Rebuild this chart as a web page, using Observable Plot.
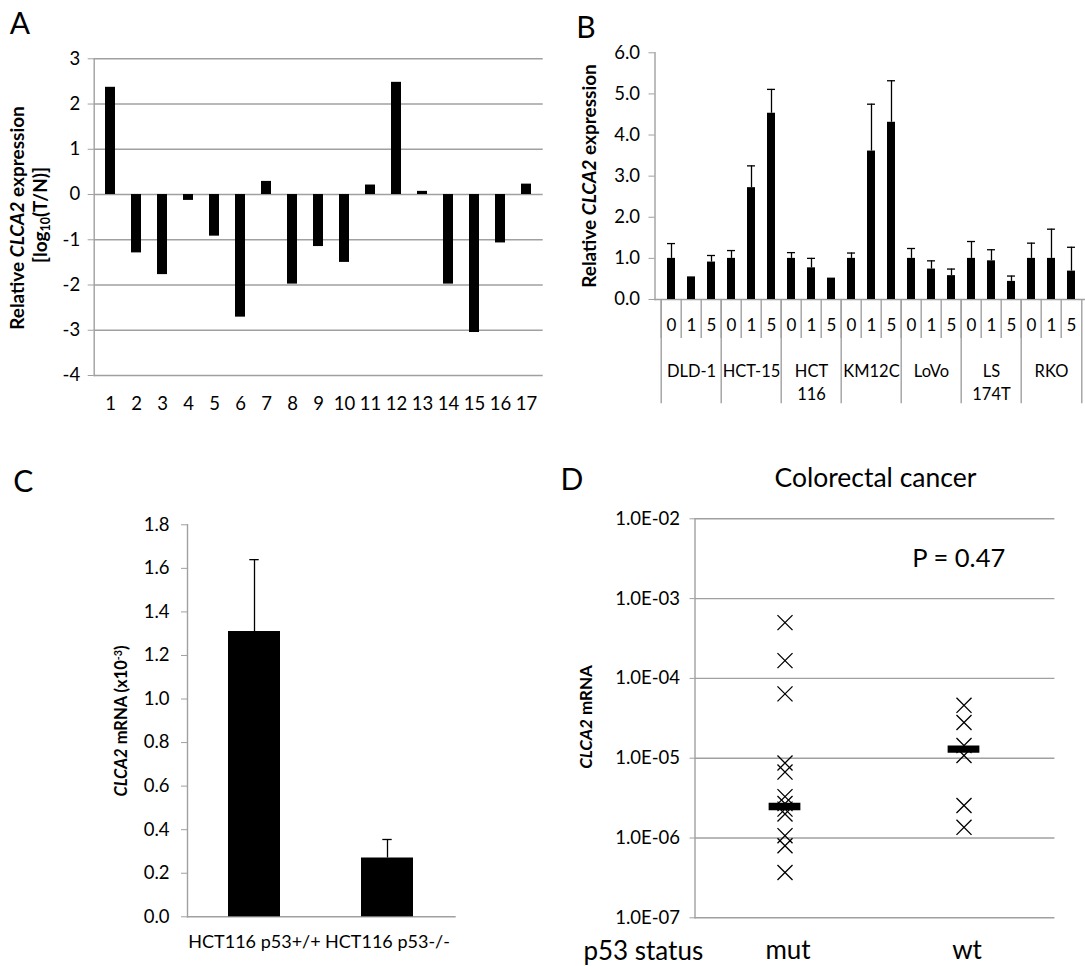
<!DOCTYPE html>
<html><head><meta charset="utf-8">
<script src="https://cdn.jsdelivr.net/npm/d3@7"></script>
<script src="https://cdn.jsdelivr.net/npm/@observablehq/plot@0.6"></script>
<style>
html,body{margin:0;padding:0;background:#fff;overflow:hidden;}
#fig{position:relative;width:1085px;height:966px;overflow:hidden;font-family:Lato,sans-serif;color:#000;background:#fff;}
#fig svg{position:absolute;}
.lbl{position:absolute;white-space:nowrap;line-height:1;transform:translate(-50%,-50%);}
.rot{position:absolute;white-space:nowrap;line-height:1;transform:translate(-50%,-50%) rotate(-90deg);font-weight:bold;font-size:17px;}
.rot sub{font-size:0.65em;vertical-align:-0.2em;}
.rot sup{font-size:0.65em;vertical-align:0.45em;}
</style></head><body><div id="fig"></div>
<script>
// ---------- Panel A data ----------
const aSamples = ["1","2","3","4","5","6","7","8","9","10","11","12","13","14","15","16","17"];
const aValues = [2.37,-1.29,-1.77,-0.13,-0.92,-2.71,0.29,-1.98,-1.15,-1.50,0.21,2.48,0.07,-1.98,-3.05,-1.07,0.23];
const aTicks = [-4,-3,-2,-1,0,1,2,3];

// ---------- Panel B data ----------
const bCellLines = ["DLD-1","HCT-15","HCT 116","KM12C","LoVo","LS 174T","RKO"];
const bGroupLabels = ["DLD-1","HCT-15","HCT\n116","KM12C","LoVo","LS\n174T","RKO"];
const bDoses = ["0","1","5"];
const bValues = [1.00,0.55,0.91, 1.00,2.72,4.53, 1.00,0.77,0.52, 1.00,3.61,4.31, 1.00,0.74,0.58, 1.00,0.94,0.44, 1.00,1.00,0.69];
const bErrors = [0.36,0.00,0.16, 0.19,0.53,0.58, 0.14,0.23,0.00, 0.13,1.14,1.01, 0.24,0.20,0.16, 0.41,0.27,0.13, 0.37,0.71,0.58];
const bTicks = [0,1,2,3,4,5,6];

// ---------- Panel C data ----------
const cCategories = ["HCT116 p53+/+","HCT116 p53-/-"];
const cValues = [1.31,0.27];
const cErrors = [0.33,0.085];
const cTicks = [0,0.2,0.4,0.6,0.8,1.0,1.2,1.4,1.6,1.8];

// ---------- Panel D data ----------
const dGroups = ["mut","wt"];
const dMut = [5.0e-4,1.67e-4,6.4e-5,8.7e-6,6.7e-6,3.3e-6,2.7e-6,2.3e-6,2.0e-6,1.07e-6,8.0e-7,3.7e-7];
const dWt = [4.6e-5,2.8e-5,1.44e-5,1.08e-5,2.55e-6,1.36e-6];
const dMedians = [2.48e-6,1.30e-5];
const dTicks = [1e-7,1e-6,1e-5,1e-4,1e-3,1e-2];
const dTickLabels = ["1.0E-07","1.0E-06","1.0E-05","1.0E-04","1.0E-03","1.0E-02"];

const GRAY = "#a0a0a0";
const FONT = "Lato, sans-serif";
const TICKFS = "18.5px";
const fig = document.getElementById("fig");

function place(svg, left, top){ svg.style.left = left+"px"; svg.style.top = top+"px"; fig.appendChild(svg); }

// ---------- Panel A ----------
{
  const data = aSamples.map((s,i)=>({s, v:aValues[i]}));
  const p = Plot.plot({
    width:560, height:420, marginLeft:93.7, marginRight:17.3, marginTop:58.3, marginBottom:45,
    style:{fontFamily:FONT, fontSize:TICKFS, color:"#000", background:"transparent"},
    x:{type:"band", domain:aSamples, paddingInner:0.62, paddingOuter:0.31},
    y:{domain:[-4,3]},
    marks:[
      Plot.ruleY(aTicks, {stroke:GRAY, strokeWidth:1.4}),
      Plot.frame({anchor:"left", stroke:GRAY, strokeWidth:1.4}),
      Plot.axisY({ticks:aTicks, tickSize:6, tickPadding:8, stroke:GRAY, tickFormat:d=>String(d).replace("−","-"), label:null}),
      Plot.barY(data, {x:"s", y:"v", fill:"#000"}),
      Plot.axisX({tickSize:0, tickPadding:21, label:null})
    ]
  });
  place(p, 0, 0);
}

// ---------- Panel B ----------
{
  const data = [];
  bCellLines.forEach((c,gi)=>bDoses.forEach((d,di)=>{
    const i = gi*3+di;
    data.push({key:c+"|"+d, cell:c, dose:d, v:bValues[i], e:bErrors[i]});
  }));
  const keys = data.map(d=>d.key);
  const mL = 114.5, width = 547.1, mR = 0, mT = 52.3, height = 420, mB = 121;
  const step = (width - mL - mR) / keys.length;
  const innerH = height - mT - mB;
  const errs = data.filter(d=>d.e>0.02);
  const groupFirst = bCellLines.map(c=>c+"|"+bDoses[0]);
  const groupMid = bCellLines.map((c,i)=>({key:c+"|"+bDoses[1], label:bGroupLabels[i]}));
  const p = Plot.plot({
    width, height, marginLeft:mL, marginRight:mR, marginTop:mT, marginBottom:mB,
    style:{fontFamily:FONT, fontSize:TICKFS, color:"#000", background:"transparent"},
    x:{type:"band", domain:keys, paddingInner:0.61, paddingOuter:0.305, axis:null},
    y:{domain:[0,6]},
    marks:[
      Plot.frame({anchor:"left", stroke:GRAY, strokeWidth:1.4}),
      Plot.frame({anchor:"bottom", stroke:GRAY, strokeWidth:1.4}),
      Plot.axisY({ticks:bTicks, tickSize:6, tickPadding:9, stroke:GRAY, tickFormat:d3.format(".1f"), label:null}),
      Plot.ruleX(data, {x:"key", dx:-step/2, insetTop:innerH, insetBottom:-39, stroke:GRAY, strokeWidth:1.4}),
      Plot.ruleX(groupFirst, {x:d=>d, dx:-step/2, insetTop:innerH, insetBottom:-104.3, stroke:GRAY, strokeWidth:1.4}),
      Plot.ruleX([keys[keys.length-1]], {x:d=>d, dx:step/2, insetTop:innerH, insetBottom:-104.3, stroke:GRAY, strokeWidth:1.4}),
      Plot.ruleX(errs, {x:"key", y1:"v", y2:d=>d.v+d.e, stroke:"#000", strokeWidth:1.3}),
      Plot.tickY(errs, {x:"key", y:d=>d.v+d.e, stroke:"#000", strokeWidth:1.3}),
      Plot.barY(data, {x:"key", y:"v", fill:"#000"}),
      Plot.text(data, {x:"key", text:"dose", frameAnchor:"bottom", dy:26, lineAnchor:"middle", fontSize:17}),
      Plot.text(groupMid, {x:"key", text:"label", frameAnchor:"bottom", dy:61, lineAnchor:"top", lineHeight:1.4, fontSize:16.5})
    ]
  });
  place(p, 540, 0);
}

// ---------- Panel C ----------
{
  const data = cCategories.map((c,i)=>({c, v:cValues[i], e:cErrors[i]}));
  const p = Plot.plot({
    width:540, height:506, marginLeft:187, marginRight:85.5, marginTop:64.3, marginBottom:49.7,
    style:{fontFamily:FONT, fontSize:TICKFS, color:"#000", background:"transparent"},
    x:{type:"band", domain:cCategories, paddingInner:0.606, paddingOuter:0.303, axis:null},
    y:{domain:[0,1.8]},
    marks:[
      Plot.frame({anchor:"left", stroke:GRAY, strokeWidth:1.4}),
      Plot.frame({anchor:"bottom", stroke:GRAY, strokeWidth:1.4}),
      Plot.axisY({ticks:cTicks, tickSize:6, tickPadding:12, stroke:GRAY, tickFormat:d3.format(".1f"), label:null}),
      Plot.ruleX(data, {x:"c", y1:"v", y2:d=>d.v+d.e, stroke:"#000", strokeWidth:1.3}),
      Plot.tickY(data, {x:"c", y:d=>d.v+d.e, stroke:"#000", strokeWidth:1.3, insetLeft:21.3, insetRight:21.3}),
      Plot.barY(data, {x:"c", y:"v", fill:"#000"}),
      Plot.text(data, {x:"c", text:"c", frameAnchor:"bottom", dy:25.4, lineAnchor:"middle", fontSize:18})
    ]
  });
  place(p, 0, 460);
}

// ---------- Panel D ----------
{
  const pts = [...dMut.map(v=>({g:"mut", v})), ...dWt.map(v=>({g:"wt", v}))];
  const med = dGroups.map((g,i)=>({g, v:dMedians[i]}));
  const mL = 154.5, width = 545, mR = 30.6;
  const step = (width - mL - mR) / 2;
  const p = Plot.plot({
    width, height:506, marginLeft:mL, marginRight:mR, marginTop:58.3, marginBottom:48.7,
    style:{fontFamily:FONT, fontSize:TICKFS, color:"#000", background:"transparent"},
    x:{type:"band", domain:dGroups, padding:0, axis:null},
    y:{type:"log", domain:[1e-7,1e-2]},
    marks:[
      Plot.ruleY(dTicks, {stroke:GRAY, strokeWidth:1.4}),
      Plot.frame({anchor:"left", stroke:GRAY, strokeWidth:1.4}),
      Plot.axisY({ticks:dTicks, tickSize:5, tickPadding:10, stroke:GRAY, tickFormat:d=>dTickLabels[dTicks.indexOf(d)], label:null}),
      Plot.dot(pts, {x:"g", y:"v", symbol:"times", r:6.9, stroke:"#000", strokeWidth:1.3}),
      Plot.tickY(med, {x:"g", y:"v", stroke:"#000", strokeWidth:7.3, insetLeft:(step-32.7)/2, insetRight:(step-32.7)/2}),
      Plot.text(dGroups, {x:d=>d, text:d=>d, frameAnchor:"bottom", dy:32.7, dx:3, lineAnchor:"middle", fontSize:26})
    ]
  });
  place(p, 540, 460);
}

// ---------- Free text ----------
function lbl(html, x, y, css, cls="lbl"){
  const d = document.createElement("div");
  d.className = cls; d.innerHTML = html;
  d.style.left = x+"px"; d.style.top = y+"px";
  if (css) d.style.cssText += css;
  fig.appendChild(d);
}
lbl("A", 19.8, 21.5, "font-size:30px;");
lbl("B", 586, 26, "font-size:30px;");
lbl("C", 23.2, 480, "font-size:30px;");
lbl("D", 572, 478, "font-size:30px;");
lbl("Relative <i>CLCA2</i> expression", 15.5, 217.5, "font-size:19px;", "rot");
lbl("[log<sub>10</sub>(T/N)]", 41.3, 215, "font-size:19px;", "rot");
lbl("Relative <i>CLCA2</i> expression", 587.6, 176, "font-size:19px;", "rot");
lbl("<i>CLCA2</i> mRNA (x10<sup>-3</sup>)", 120.5, 720.8, "font-size:16.5px;", "rot");
lbl("<i>CLCA2</i> mRNA", 585, 717, "font-size:17px;", "rot");
lbl("Colorectal cancer", 875.4, 476.7, "font-size:26.5px;");
lbl("P = 0.47", 958.8, 558, "font-size:25.5px;");
lbl("p53 status", 583.4, 950, "font-size:26px;transform:translate(0,-50%);");
</script></body></html>
